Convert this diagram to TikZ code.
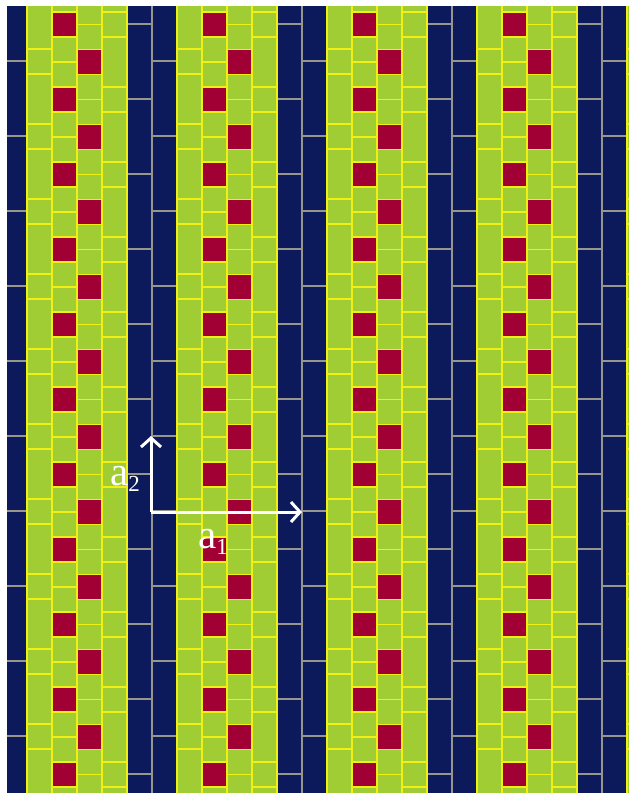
\documentclass[tikz,border=0pt]{standalone}
\usepackage{fontspec}
\setmainfont{Liberation Serif}
\usetikzlibrary{arrows.meta}
\definecolor{navy}{RGB}{12,26,92}
\definecolor{leaf}{RGB}{160,205,52}
\definecolor{seam}{RGB}{240,240,20}
\definecolor{wine}{RGB}{160,0,52}
\definecolor{joint}{RGB}{150,150,140}
\newcommand{\vsub}[1]{\raisebox{-6pt}{\fontsize{23}{23}\selectfont #1}}
\begin{document}
\begin{tikzpicture}[x=1pt, y=-1pt,
    % Estilos
    seamline/.style={draw=seam, line width=1.5pt},
    jointline/.style={draw=joint, line width=1.1pt},
    vec/.style={-{Straight Barb[length=9pt, width=20pt]}, draw=white, line width=3pt},
    veclabel/.style={anchor=base west, inner sep=0pt, text=white,
        font=\fontsize{41}{41}\selectfont}
]
\useasboundingbox (0,0) rectangle (629,793);

% =============================================
% MOSAICO
% =============================================
\begin{scope}
\clip (7,6) rectangle (629,793);
\fill[navy] (7,6) rectangle (629,793);
\foreach \k in {-1,...,4}{
    \pgfmathsetmacro\xo{27+150*\k}
    % banda verde
    \fill[leaf] (\xo,0) rectangle ++(100,800);
    \foreach \j in {-1,...,10}{
        \pgfmathsetmacro\yo{75*\j}
        % cuadros rojos
        \fill[wine] (\xo+25,\yo+12) rectangle ++(25,25);
        \fill[wine] (\xo+50,\yo+49.5) rectangle ++(25,25);
        % juntas horizontales
        \draw[seamline] (\xo,\yo+49) -- ++(25,0)
                        (\xo,\yo+74) -- ++(25,0);
        \draw[seamline] (\xo+25,\yo+12) -- ++(25,0)
                        (\xo+25,\yo+37) -- ++(25,0)
                        (\xo+25,\yo+62) -- ++(25,0);
        \draw[seamline] (\xo+50,\yo+24.5) -- ++(25,0)
                        (\xo+50,\yo+49.5) -- ++(25,0)
                        (\xo+50,\yo+74.5) -- ++(25,0);
        \draw[seamline] (\xo+75,\yo+12) -- ++(25,0)
                        (\xo+75,\yo+37) -- ++(25,0);
        \draw[jointline] (\xo+100,\yo+24) -- ++(25,0);
        \draw[jointline] (\xo+125,\yo+61) -- ++(25,0);
    }
    % juntas verticales
    \foreach \c in {0,25,50,75,100}
        \draw[seamline] (\xo+\c,0) -- ++(0,800);
    \draw[jointline] (\xo+125,0) -- ++(0,800);
}
\end{scope}

% =============================================
% VECTORES DE LA RED
% =============================================
\coordinate (origin) at (151,512);
\coordinate (a1tip) at (302,512);
\coordinate (a2tip) at (151,436);

\draw[vec] (origin) -- (a1tip);
\draw[vec] (origin) -- (a2tip);

\node[veclabel] (a1label) at (198,548) {a\vsub{1}};
\node[veclabel] (a2label) at (110,485) {a\vsub{2}};

\end{tikzpicture}
\end{document}
